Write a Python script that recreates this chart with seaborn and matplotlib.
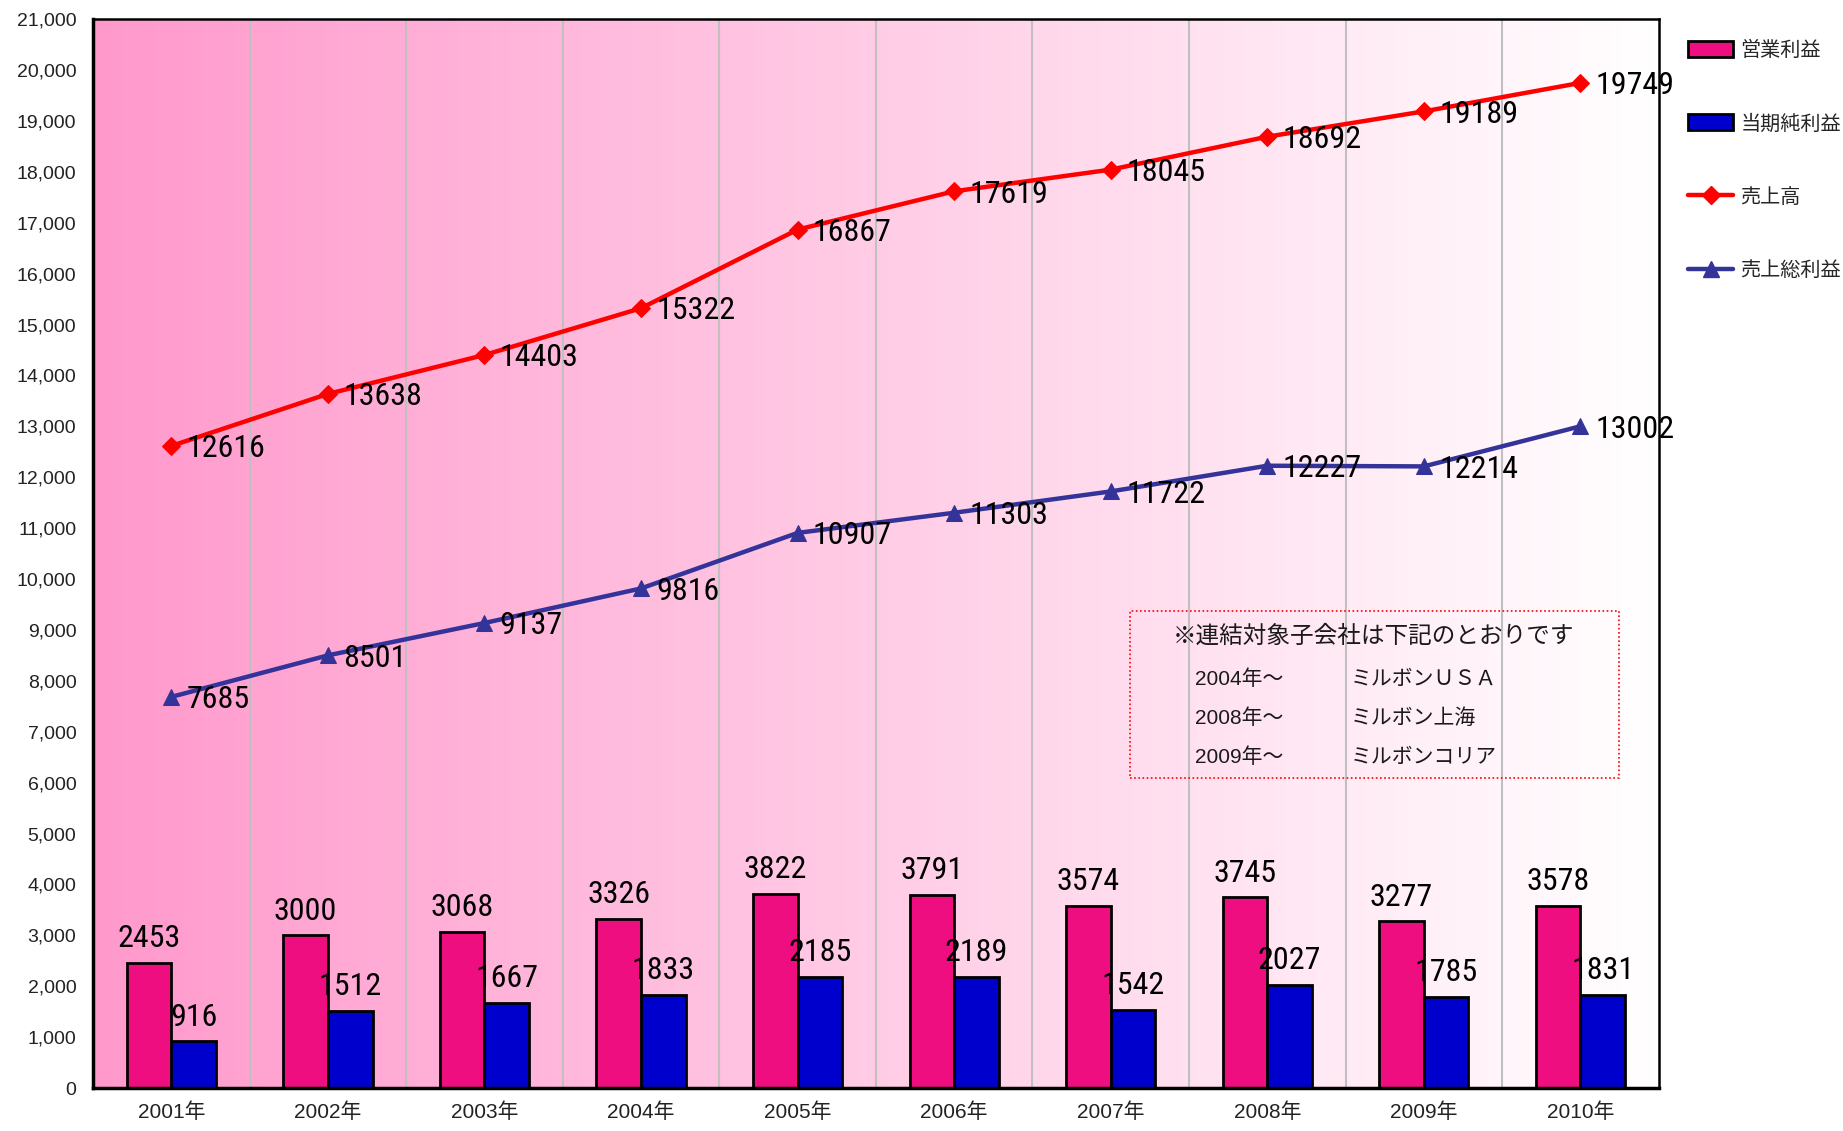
"""
ミルボン 業績推移 (2001-2010) - bars for profit, lines for sales
"""
import numpy as np
import pandas as pd
import matplotlib
matplotlib.use("Agg")
import matplotlib.pyplot as plt
from matplotlib.patches import Patch, Rectangle
from matplotlib.lines import Line2D
from matplotlib.ticker import FixedLocator, FuncFormatter
import seaborn as sns

sns.set_style("white")
plt.rcParams["font.family"] = ["Noto Sans CJK JP", "DejaVu Sans"]

# ---------------------------------------------------------
# DATA
# ---------------------------------------------------------
years = ["2001年", "2002年", "2003年", "2004年", "2005年",
         "2006年", "2007年", "2008年", "2009年", "2010年"]
operating_profit = [2453, 3000, 3068, 3326, 3822, 3791, 3574, 3745, 3277, 3578]
net_profit = [916, 1512, 1667, 1833, 2185, 2189, 1542, 2027, 1785, 1831]
sales = [12616, 13638, 14403, 15322, 16867, 17619, 18045, 18692, 19189, 19749]
gross_profit = [7685, 8501, 9137, 9816, 10907, 11303, 11722, 12227, 12214, 13002]

series_names = ["営業利益", "当期純利益", "売上高", "売上総利益"]
note_title = "※連結対象子会社は下記のとおりです"
note_years = ["2004年～", "2008年～", "2009年～"]
note_companies = ["ミルボンＵＳＡ", "ミルボン上海", "ミルボンコリア"]

PINK = "#EE0E80"
BLUE = "#0000CC"
RED = "#FF0000"
NAVY = "#333399"
INK = "#1A1A1A"

bars = pd.DataFrame({
    "year": years * 2,
    "value": operating_profit + net_profit,
    "kind": [series_names[0]] * len(years) + [series_names[1]] * len(years),
})
xpos = np.arange(len(years))

# ---------------------------------------------------------
# FIGURE
# ---------------------------------------------------------
fig = plt.figure(figsize=(18.43, 11.31), dpi=100)
ax = fig.add_axes([0.0505, 0.038, 0.8495, 0.945])

# pink -> white horizontal gradient background
grad = np.linspace(0, 1, 256)[None, :]
cmap = matplotlib.colors.LinearSegmentedColormap.from_list("bg", ["#FF99CC", "#FFFFFF"])
ax.imshow(grad, cmap=cmap, extent=[-0.5, 9.5, 0, 21000], aspect="auto", zorder=0)

for b in np.arange(0.5, 9.5, 1):
    ax.axvline(b, color="#C0C0C0", lw=1.5, zorder=0.5)

sns.barplot(data=bars, x="year", y="value", hue="kind", order=years,
            palette={series_names[0]: PINK, series_names[1]: BLUE},
            width=0.57, edgecolor="black", linewidth=2, legend=False,
            saturation=1, ax=ax, zorder=2)

# narrow digits for the data labels
label_font = dict(family=["Roboto Condensed", "DejaVu Sans"], fontstretch="condensed",
                  fontsize=23, color="black")
for cont in ax.containers:
    ax.bar_label(cont, padding=7, **label_font)

sns.lineplot(x=xpos, y=sales, color=RED, lw=3.2, marker="D", markersize=9,
             markeredgecolor=RED, ax=ax, zorder=3)
sns.lineplot(x=xpos, y=gross_profit, color=NAVY, lw=3.2, marker="^", markersize=11,
             markeredgecolor=NAVY, ax=ax, zorder=3)

for series in (sales, gross_profit):
    for x, v in zip(xpos, series):
        ax.annotate(str(v), (x, v), xytext=(11, -2), textcoords="offset points",
                    ha="left", va="center", zorder=4, **label_font)

# note box
mixed = ["Liberation Sans", "Noto Sans CJK JP"]
ax.add_patch(Rectangle((6.12, 6090), 3.125, 3280, fill=False, edgecolor=RED,
                       linestyle=(0, (1, 1.5)), lw=1.2, zorder=3))
ax.text(7.68, 8880, note_title, ha="center", va="center", fontsize=17, color=INK, zorder=4)
for i, (yr, comp) in enumerate(zip(note_years, note_companies)):
    yv = 8030 - i * 760
    ax.text(6.54, yv, yr, ha="left", va="center", fontsize=15, color=INK,
            family=mixed, zorder=4)
    ax.text(7.53, yv, comp, ha="left", va="center", fontsize=15, color=INK, zorder=4)

# axes
ax.set_xlim(-0.5, 9.5)
ax.set_ylim(0, 21000)
ax.set_xlabel("")
ax.set_ylabel("")
ax.set_yticks(np.arange(0, 21001, 1000))
ax.yaxis.set_major_formatter(FuncFormatter(lambda v, _: f"{int(v):,}"))
ax.tick_params(axis="y", direction="in", length=6, width=2, labelsize=14,
               labelcolor="#222222", pad=12)
ax.set_xticks(xpos)
ax.set_xticklabels(years)
ax.tick_params(axis="x", which="major", length=0, labelsize=15, labelcolor="#222222", pad=10)
ax.xaxis.set_minor_locator(FixedLocator(np.arange(0.5, 9.5, 1)))
ax.tick_params(axis="x", which="minor", direction="in", length=6, width=2)
for lab in ax.get_yticklabels() + ax.get_xticklabels():
    lab.set_family(mixed)

for side, sp in ax.spines.items():
    sp.set_visible(True)
    sp.set_color("black")
    sp.set_linewidth(2.5 if side in ("left", "bottom") else 1.8)
    sp.set_zorder(5)

# legend
handles = [
    Patch(facecolor=PINK, edgecolor="black", linewidth=2),
    Patch(facecolor=BLUE, edgecolor="black", linewidth=2),
    Line2D([], [], color=RED, lw=3.2, marker="D", markersize=9),
    Line2D([], [], color=NAVY, lw=3.2, marker="^", markersize=11),
]
fig.legend(handles, series_names, loc="upper left", bbox_to_anchor=(0.916, 0.9646),
           frameon=False, fontsize=14.5, handlelength=2.24, handleheight=0.85,
           labelspacing=2.6, handletextpad=0.35, borderpad=0, borderaxespad=0)

fig.savefig("out.png", dpi=100)
plt.close(fig)
